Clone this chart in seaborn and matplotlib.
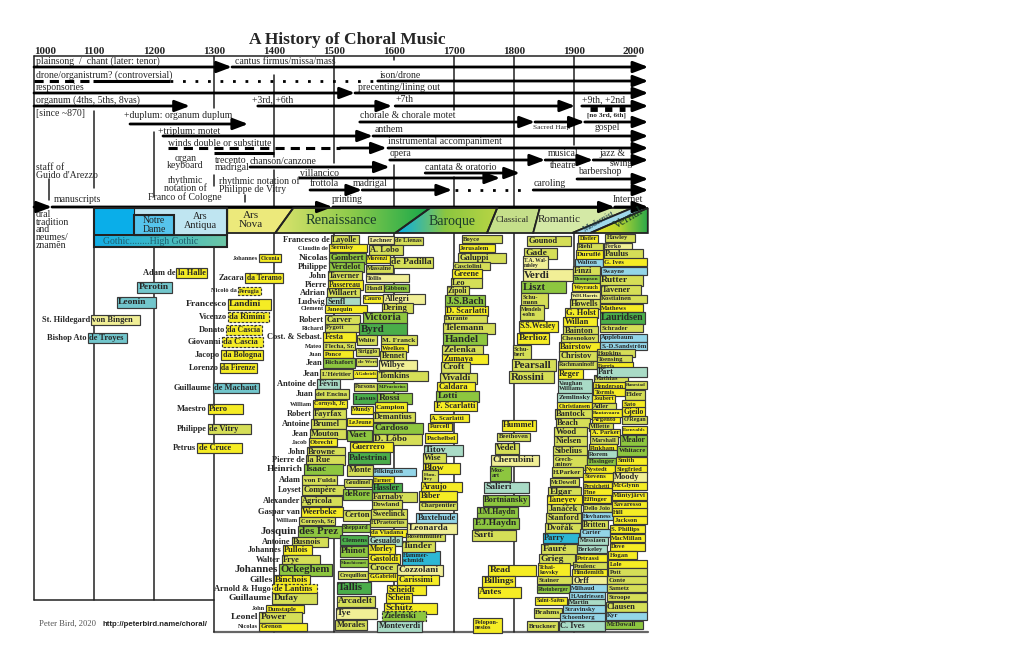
import numpy as np
import matplotlib
matplotlib.use('Agg')
import matplotlib.pyplot as plt
from matplotlib.patches import Polygon, Rectangle
from matplotlib.colors import LinearSegmentedColormap
import seaborn as sns

sns.set_theme(style='white')
plt.rcParams['font.family'] = ['Liberation Serif', 'DejaVu Serif']

# ---------------- data ----------------
axis_years = [1000, 1100, 1200, 1300, 1400, 1500, 1600, 1700, 1800, 1900, 2000]

# strands of practice in the upper panel: (text, year, row)
strand_text = [
    ("plainsong  /  chant (later: tenor)", 1003, 61),
    ("cantus firmus/missa/mass", 1335, 61),
    ("drone/organistrum? (controversial)", 1003, 75),
    ("ison/drone", 1577, 75),
    ("responsories", 1003, 87),
    ("precenting/lining out", 1540, 87),
    ("organum (4ths, 5ths, 8vas)", 1003, 100),
    ("+3rd, +6th", 1363, 100),
    ("+7th", 1602, 100),
    ("+9th, +2nd", 1913, 100),
    ("[since ~870]", 1003, 114),
    ("+duplum: organum duplum", 1150, 116),
    ("chorale & chorale motet", 1543, 116),
    ("+triplum: motet", 1207, 131),
    ("anthem", 1568, 130),
    ("winds double or substitute", 1223, 143),
    ("instrumental accompaniment", 1590, 142),
    ("opera", 1593, 153),
    ("musical", 1857, 153),
    ("theatre", 1860, 166),
    ("jazz &", 1943, 153),
    ("swing", 1960, 164),
    ("chanson/canzone", 1360, 161),
    ("staff of", 1003, 167),
    ("Guido d'Arezzo", 1003, 175),
    ("villancico", 1443, 173),
    ("cantata & oratorio", 1652, 167),
    ("barbershop", 1907, 172),
    ("frottola", 1460, 184),
    ("madrigal", 1532, 184),
    ("caroling", 1832, 184),
    ("manuscripts", 1033, 199),
    ("printing", 1497, 199),
    ("Internet", 1965, 199),
]
strand_notes = [  # centred multi-line notes
    ("organ\nkeyboard", 1252, 162),
    ("rhythmic\nnotation of\nFranco of Cologne", 1252, 189),
]
strand_notes_left = [
    ("trecento\nmadrigal", 1302, 164),
    ("rhythmic notation of\nPhilippe de Vitry", 1308, 185),
]

# arrows: (from year, to year, row)
strand_arrows = [
    (1000, 1330, 67), (1330, 2024, 67),
    (1573, 2024, 81),
    (1000, 1535, 93), (1535, 2024, 93),
    (1000, 1260, 106), (1373, 1597, 106), (1602, 1902, 106), (1913, 2024, 106),
    (1160, 1357, 124),
    (1543, 1835, 122), (1835, 1918, 122), (1918, 2024, 122),
    (1215, 1565, 136), (1565, 2024, 136),
    (1510, 1588, 148), (1590, 2024, 148),
    (1593, 1852, 160), (1852, 1932, 160), (1932, 2024, 160),
    (1360, 1593, 167),
    (1443, 1777, 178),
    (1652, 1810, 173),
    (1905, 2024, 179),
    (1460, 1547, 190), (1547, 1697, 190),
    (1832, 2024, 190),
    (1000, 1030, 207), (1030, 1498, 207), (1498, 1968, 207), (1968, 2024, 207),
]
# plain segments: (from, to, row, kind)
strand_segments = [
    (1000, 1095, 81, 'dash'), (1098, 1227, 81, 'solid'), (1227, 1573, 81, 'dot'),
    (1223, 1510, 148, 'dash'),
    (1300, 1400, 153, 'solid'),
    (1702, 1822, 190, 'dot'),
    (1927, 1985, 109, 'square'),
]
# vertical markers (year, top row, bottom row)
markers = [
    (1300, 56, 108), (1300, 175, 186), (1400, 75, 157), (1400, 170, 207),
    (1500, 56, 163), (1600, 56, 60), (1600, 165, 207), (1700, 56, 110),
    (1700, 177, 207), (1800, 56, 207), (1900, 56, 145), (1100, 111, 188),
    (1200, 132, 197), (1025, 179, 200), (1352, 195, 202),
    (1100, 247, 600), (1200, 247, 600), (1300, 208, 632), (1400, 233, 632),
    (1500, 233, 632), (1600, 233, 632), (1700, 233, 632), (1800, 233, 632),
    (1900, 233, 632),
]

# composers: (given, surname, born, died, row, group, rank)
medieval = [
    ("Adam de", "la Halle", 1237, 1288, 273, 'Y', 2),
    ("", "Perotin", 1172, 1230, 287, 'T', 3),
    ("", "Leonin", 1138, 1203, 302, 'T', 3),
    ("St. Hildegard", "von Bingen", 1095, 1177, 320, 'y', 2),
    ("Bishop Ato", "de Troyes", 1090, 1155, 338, 'T', 2),
    ("Guillaume", "de Machaut", 1298, 1375, 388, 'T', 2),
    ("Maestro", "Piero", 1290, 1348, 409, 'Y', 2),
    ("Johannes", "Ciconia", 1375, 1412, 258, 'Y', 1),
    ("Zacara", "da Teramo", 1352, 1415, 278, 'Y', 2),
    ("Nicolò da", "Perugia", 1340, 1378, 291, 'Y', 1),
    ("Francesco", "Landini", 1323, 1395, 304, 'Y', 3),
    ("Vicenzo", "da Rimini", 1323, 1392, 317, 'Y', 2),
    ("Donato", "da Cascia", 1320, 1380, 330, 'Y', 2),
    ("Giovanni", "da Cascia", 1313, 1382, 342, 'Y', 2),
    ("Jacopo", "da Bologna", 1312, 1382, 355, 'Y', 2),
    ("Lorenzo", "da Firenze", 1310, 1372, 368, 'Y', 2),
    ("Philippe", "de Vitry", 1290, 1362, 429, 'G', 2),
    ("Petrus", "de Cruce", 1272, 1347, 448, 'Y', 2),
]
renaissance_early = [
    ("Francesco de", "Layolle", 1495, 1542, 240, 'G', 2),
    ("Claudin de", "Sermisy", 1492, 1555, 248, 'Y', 1),
    ("Nicolas", "Gombert", 1492, 1553, 258, 'g', 3),
    ("Philippe", "Verdelot", 1492, 1550, 267, 'g', 2),
    ("John", "Taverner", 1490, 1547, 276, 'G', 2),
    ("Pierre", "Passereau", 1490, 1548, 285, 'Y', 2),
    ("Adrian", "Willaert", 1488, 1543, 293, 'G', 2),
    ("Ludwig", "Senfl", 1487, 1543, 302, 't', 2),
    ("Clement", "Janequin", 1485, 1555, 309, 'Y', 1),
    ("Robert", "Carver", 1485, 1543, 320, 'G', 2),
    ("Richard", "Pygott", 1485, 1543, 328, 'G', 1),
    ("Cost. & Sebast.", "Festa", 1482, 1537, 337, 'Y', 2),
    ("Mateo", "Flecha, Sr.", 1482, 1535, 346, 'G', 1),
    ("Juan", "Ponce", 1482, 1532, 354, 'Y', 1),
    ("Jean", "Richafort", 1482, 1535, 363, 'g', 2),
    ("Jean", "L'Héritier", 1477, 1532, 374, 'G', 2),
    ("Antoine de", "Févin", 1472, 1510, 384, 't', 2),
    ("Juan", "del Encina", 1468, 1525, 394, 'G', 2),
    ("William", "Cornysh, Jr.", 1465, 1522, 404, 'Y', 1),
    ("Robert", "Fayrfax", 1465, 1520, 414, 'G', 2),
    ("Antoine", "Brumel", 1462, 1520, 424, 'G', 2),
    ("Jean", "Mouton", 1460, 1520, 434, 'G', 2),
    ("Jacob", "Obrecht", 1458, 1505, 442, 'Y', 1),
    ("John", "Browne", 1455, 1518, 452, 'G', 2),
    ("Pierre de", "la Rue", 1453, 1518, 460, 'G', 2),
    ("Heinrich", "Isaac", 1450, 1515, 469, 'g', 3),
    ("Adam", "von Fulda", 1447, 1505, 480, 'G', 2),
    ("Loyset", "Compère", 1447, 1518, 490, 'G', 2),
    ("Alexander", "Agricola", 1445, 1513, 501, 'G', 2),
    ("Gaspar van", "Weerbeke", 1445, 1515, 512, 'Y', 2),
    ("William", "Cornysh, Sr.", 1442, 1502, 521, 'G', 1),
    ("Josquin", "des Prez", 1440, 1513, 532, 'g', 4),
    ("Antoine", "Busnois", 1430, 1490, 542, 'G', 2),
    ("Johannes", "Pullois", 1415, 1463, 550, 'Y', 2),
    ("Walter", "Frye", 1413, 1477, 560, 'G', 2),
    ("Johannes", "Ockeghem", 1408, 1497, 570, 'g', 4),
    ("Gilles", "Binchois", 1400, 1460, 580, 'Y', 3),
    ("Arnold & Hugo", "de Lantins", 1397, 1472, 589, 'Y', 2),
    ("Guillaume", "Dufay", 1397, 1472, 598, 'G', 3),
    ("John", "Dunstaple", 1387, 1450, 609, 'Y', 1),
    ("Leonel", "Power", 1375, 1447, 617, 'G', 3),
    ("Nicolas", "Grenon", 1375, 1455, 627, 'Y', 1),
]
renaissance_late = [
    ("Lechner", 1557, 1600, 240, 'y', 1), ("de Lienas", 1600, 1648, 241, 'G', 1),
    ("A. Lobo", 1558, 1615, 250, 'G', 2), ("Morenzi", 1553, 1593, 259, 'Y', 1),
    ("de Padilla", 1593, 1665, 262, 'G', 3), ("Massaine", 1553, 1598, 269, 'G', 1),
    ("Tollis", 1553, 1625, 278, 'y', 1), ("Handl", 1552, 1583, 288, 'G', 1),
    ("Gibbons", 1583, 1625, 288, 'g', 1), ("Cauro", 1548, 1582, 299, 'Y', 1),
    ("Allegri", 1582, 1652, 299, 'y', 2), ("Dering", 1580, 1632, 308, 'G', 2),
    ("Victoria", 1548, 1622, 318, 'g', 4), ("Byrd", 1542, 1622, 329, 'D', 4),
    ("White", 1538, 1572, 340, 'G', 2), ("M. Franck", 1578, 1638, 340, 'G', 2),
    ("Striggio", 1537, 1575, 352, 'G', 1), ("Weelkes", 1578, 1623, 348, 'Y', 1),
    ("Bennet", 1577, 1620, 356, 'G', 2), ("de Wert", 1537, 1572, 362, 'G', 1),
    ("Wilbye", 1575, 1638, 365, 'y', 2), ("A.Gabrieli", 1532, 1572, 374, 'Y', 1),
    ("Tomkins", 1572, 1657, 376, 'G', 2), ("Parsons", 1533, 1572, 387, 'G', 1),
    ("M.Praetorius", 1572, 1622, 387, 'g', 1), ("Lassus", 1532, 1572, 398, 'D', 3),
    ("Rossi", 1572, 1630, 398, 'g', 3), ("Mundy", 1528, 1565, 410, 'Y', 1),
    ("Campion", 1568, 1622, 407, 'Y', 2), ("Demantius", 1565, 1635, 417, 'G', 2),
    ("LeJeune", 1522, 1565, 422, 'Y', 1), ("Cardoso", 1565, 1648, 428, 'g', 3),
    ("Vaet", 1522, 1563, 435, 'g', 3), ("D. Lôbo", 1565, 1647, 439, 'G', 3),
    ("Guerrero", 1527, 1598, 447, 'Y', 2), ("Palestrina", 1523, 1593, 458, 'D', 4),
    ("Monte", 1522, 1565, 470, 'G', 3), ("Pilkington", 1565, 1637, 472, 'B', 1),
    ("Goudimel", 1517, 1563, 483, 'G', 1), ("Farmer", 1565, 1600, 480, 'Y', 1),
    ("Hassler", 1563, 1613, 488, 'D', 2), ("deRore", 1515, 1563, 494, 'g', 3),
    ("Farnaby", 1563, 1638, 497, 'G', 2), ("Dowland", 1563, 1613, 505, 'G', 2),
    ("Certon", 1515, 1562, 515, 'G', 3), ("Sweelinck", 1562, 1622, 514, 'G', 2),
    ("Sheppard", 1513, 1560, 528, 'g', 1), ("H.Praetorius", 1560, 1622, 523, 'G', 1),
    ("da Viadana", 1560, 1622, 533, 'Y', 1), ("Clemens", 1510, 1557, 540, 'D', 2),
    ("Gesualdo", 1557, 1613, 541, 't', 2), ("Phinot", 1510, 1557, 551, 'g', 3),
    ("Morley", 1557, 1602, 549, 'Y', 2), ("Manchicourt", 1510, 1557, 563, 'g', 1),
    ("Gastoldi", 1557, 1610, 559, 'Y', 2), ("Crequillon", 1507, 1557, 575, 'G', 1),
    ("Croce", 1557, 1607, 568, 'G', 3), ("G.Gabrieli", 1557, 1607, 577, 'Y', 1),
    ("Tallis", 1505, 1562, 588, 'D', 4), ("Arcadelt", 1505, 1568, 601, 'G', 3),
    ("Tye", 1503, 1572, 613, 'y', 3), ("Morales", 1502, 1555, 625, 'G', 2),
    ("Scheidt", 1588, 1653, 590, 'Y', 2), ("Schein", 1587, 1630, 598, 'Y', 2),
    ("Schütz", 1583, 1672, 608, 'Y', 3), ("Zieleński", 1580, 1653, 616, 'g', 2),
    ("Monteverdi", 1572, 1647, 626, 't', 3), ("Hammer-\nschmidt", 1613, 1677, 558, 'C', 0),
    ("Tunder", 1613, 1668, 546, 'G', 3), ("Rosenmüller", 1620, 1685, 537, 'G', 1),
    ("Leonarda", 1622, 1705, 528, 'y', 3), ("Cozzolani", 1605, 1682, 570, 'y', 3),
    ("Carissimi", 1605, 1675, 580, 'Y', 2),
]
baroque = [
    ("Boyce", 1713, 1780, 239, 'G', 1), ("Jerusalem", 1708, 1768, 248, 'Y', 1),
    ("Galuppi", 1707, 1787, 258, 'G', 2), ("Casciolini", 1698, 1760, 266, 'G', 1),
    ("Greene", 1697, 1747, 274, 'Y', 2), ("Leo", 1695, 1747, 283, 'G', 2),
    ("Zipoli", 1688, 1725, 291, 'G', 2), ("J.S.Bach", 1685, 1752, 301, 'g', 4),
    ("D. Scarlatti", 1685, 1757, 311, 'Y', 2), ("Durante", 1683, 1755, 319, 'G', 1),
    ("Telemann", 1682, 1768, 328, 'G', 3), ("Handel", 1682, 1755, 339, 'g', 4),
    ("Zelenka", 1680, 1748, 350, 'G', 3), ("Zumaya", 1680, 1757, 359, 'Y', 2),
    ("Croft", 1678, 1727, 367, 'G', 3), ("Vivaldi", 1677, 1738, 378, 'G', 3),
    ("Caldara", 1672, 1735, 387, 'Y', 2), ("Lotti", 1670, 1742, 396, 'g', 3),
    ("F. Scarlatti", 1667, 1738, 406, 'Y', 2), ("A. Scarlatti", 1660, 1725, 418, 'Y', 1),
    ("Purcell", 1657, 1697, 427, 'Y', 1), ("Pachelbel", 1652, 1705, 438, 'Y', 2),
    ("Titov", 1650, 1715, 450, 't', 3), ("Wise", 1648, 1687, 458, 'G', 2),
    ("Blow", 1648, 1710, 468, 'Y', 3), ("Hum-\nfrey", 1647, 1673, 477, 'G', 0),
    ("Araujo", 1645, 1713, 487, 'Y', 2), ("Biber", 1642, 1705, 496, 'Y', 2),
    ("Charpentier", 1642, 1705, 506, 'G', 1), ("Buxtehude", 1637, 1705, 518, 'B', 2),
    ("Pelopon-\nnesios", 1732, 1780, 625, 'Y', 0),
]
classical = [
    ("Hummel", 1780, 1837, 425, 'Y', 3), ("Beethoven", 1772, 1827, 437, 'G', 1),
    ("Vedel", 1768, 1808, 448, 'G', 3), ("Cherubini", 1762, 1842, 460, 'y', 3),
    ("Moz-\nart", 1760, 1795, 473, 'g', 0), ("Salieri", 1750, 1825, 487, 't', 3),
    ("Bortniansky", 1748, 1825, 500, 'g', 3), ("J.M.Haydn", 1738, 1807, 512, 'g', 3),
    ("F.J.Haydn", 1732, 1808, 523, 'g', 3), ("Sarti", 1730, 1803, 535, 'G', 3),
    ("Read", 1757, 1837, 570, 'Y', 3), ("Billings", 1747, 1802, 581, 'Y', 3),
    ("Antes", 1740, 1812, 592, 'Y', 3),
]
romantic = [
    ("Gounod", 1822, 1895, 241, 'G', 2), ("Gade", 1817, 1872, 253, 'G', 3),
    ("T.A. Wal-\nmisley", 1815, 1857, 263, 'y', 0), ("Verdi", 1815, 1898, 275, 'y', 4),
    ("Liszt", 1812, 1887, 287, 'g', 4), ("Schu-\nmann", 1812, 1857, 300, 'G', 0),
    ("Mendels\n-sohn", 1810, 1850, 312, 'G', 0), ("S.S.Wesley", 1808, 1873, 326, 'Y', 3),
    ("Berlioz", 1805, 1858, 338, 'Y', 3), ("Schu-\nbert", 1798, 1828, 352, 'G', 0),
    ("Pearsall", 1797, 1870, 365, 'G', 4), ("Rossini", 1792, 1867, 377, 'G', 4),
]
modern_a = [
    ("Distler", 1907, 1940, 239, 'Y', 1), ("Riehl", 1905, 1948, 247, 'G', 1),
    ("Duruflé", 1903, 1948, 255, 'Y', 2), ("Walton", 1902, 1948, 263, 'B', 1),
    ("Finzi", 1898, 1943, 271, 'G', 2), ("Thompson", 1898, 1943, 279, 'g', 1),
    ("Weyrauch", 1897, 1943, 287, 'Y', 1), ("W.H.Harris", 1895, 1943, 296, 'y', 1),
    ("Howells", 1893, 1943, 304, 'G', 2), ("G. Holst", 1885, 1940, 313, 'Y', 2),
    ("Willan", 1882, 1938, 322, 'Y', 2), ("Bainton", 1882, 1940, 331, 'G', 2),
    ("Chesnokov", 1878, 1940, 339, 'G', 2), ("Bairstow", 1875, 1943, 347, 'Y', 2),
    ("Christov", 1875, 1938, 356, 'G', 2), ("Rachmaninoff", 1873, 1938, 365, 'G', 1),
    ("Reger", 1873, 1915, 374, 'Y', 2), ("Vaughan\nWilliams", 1873, 1930, 386, 't', 0),
    ("Zemlinsky", 1872, 1930, 398, 't', 2), ("Christiansen", 1872, 1930, 406, 'Y', 1),
    ("Bantock", 1868, 1930, 414, 'G', 2), ("Beach", 1870, 1927, 423, 'G', 2),
    ("Wood", 1867, 1922, 432, 'G', 2), ("Nielsen", 1867, 1922, 441, 'G', 2),
    ("Sibelius", 1865, 1922, 451, 'G', 2), ("Grech-\naninov", 1865, 1922, 462, 'G', 0),
    ("H.Parker", 1863, 1915, 472, 'G', 2), ("McDowell", 1860, 1908, 482, 'G', 1),
    ("Elgar", 1857, 1912, 492, 'G', 3), ("Taneyev", 1855, 1913, 500, 'Y', 2),
    ("Janáček", 1855, 1912, 509, 'G', 2), ("Stanford", 1853, 1912, 518, 'G', 2),
    ("Dvořák", 1852, 1912, 528, 'G', 2), ("Parry", 1848, 1908, 538, 'C', 2),
    ("Fauré", 1845, 1905, 549, 'G', 3), ("Grieg", 1842, 1902, 559, 'G', 3),
    ("Tchai-\nkovsky", 1840, 1893, 570, 'Y', 0), ("Stainer", 1838, 1897, 580, 'G', 1),
    ("Rheinberger", 1838, 1893, 589, 'g', 1), ("Saint-Saëns", 1835, 1888, 601, 'Y', 1),
    ("Brahms", 1833, 1880, 613, 'G', 2), ("Bruckner", 1822, 1873, 626, 'G', 2),
]
modern_b = [
    ("Argento", 1930, 1977, 419, 'Y', 1), ("Villette", 1925, 1965, 427, 'G', 1),
    ("A. Parker", 1927, 1977, 433, 'Y', 1), ("Marshall", 1927, 1973, 440, 'G', 1),
    ("Pinkham", 1925, 1972, 448, 'Y', 1), ("Rorem", 1923, 1972, 454, 't', 1),
    ("Fissinger", 1922, 1970, 462, 'g', 1), ("Nystedt", 1918, 1968, 469, 'Y', 1),
    ("Stevens", 1915, 1965, 477, 'Y', 1), ("Persichetti", 1915, 1963, 486, 'Y', 1),
    ("Fine", 1915, 1963, 492, 'Y', 1), ("Effinger", 1915, 1962, 499, 'Y', 1),
    ("Dello Joio", 1915, 1963, 508, 'G', 1), ("Hovhaness", 1913, 1965, 516, 'B', 1),
    ("Britten", 1913, 1957, 525, 'G', 2), ("Carter", 1910, 1960, 533, 'B', 1),
    ("Messiaen", 1907, 1957, 541, 't', 1), ("Berkeley", 1905, 1955, 549, 't', 1),
    ("Petrassi", 1903, 1955, 558, 'Y', 1), ("Poulenc", 1898, 1955, 566, 'G', 1),
    ("Hindemith", 1897, 1955, 573, 'Y', 1), ("Orff", 1897, 1955, 581, 'y', 2),
    ("Milhaud", 1893, 1955, 588, 'B', 1), ("H.Andriessen", 1892, 1952, 596, 'B', 1),
    ("Martin", 1890, 1952, 603, 't', 1), ("Stravinsky", 1882, 1952, 609, 'B', 1),
    ("Schoenberg", 1877, 1952, 617, 'B', 1), ("C. Ives", 1875, 1952, 626, 't', 2),
    ("Mathias", 1933, 1990, 379, 'G', 1), ("Henderson", 1932, 1985, 386, 'Y', 1),
    ("Tormis", 1932, 1985, 392, 'Y', 1), ("Joubert", 1930, 1968, 399, 'Y', 1),
    ("Adler", 1930, 1970, 407, 'G', 1), ("Rautavaara", 1930, 1980, 413, 'Y', 1),
]
modern_c = [
    ("Hawley", 1952, 2002, 238, 'G', 1), ("Ferko", 1950, 1997, 247, 'y', 1),
    ("Paulus", 1950, 2015, 254, 'G', 2), ("G. Ives", 1948, 2022, 262, 'Y', 1),
    ("Swayne", 1945, 2022, 271, 'B', 1), ("Rutter", 1943, 2015, 280, 'G', 3),
    ("Tavener", 1945, 2012, 290, 'G', 2), ("Kostiainen", 1943, 2022, 299, 'G', 1),
    ("Mathews", 1943, 2015, 308, 'Y', 1), ("Lauridsen", 1943, 2018, 318, 'D', 4),
    ("Schrader", 1943, 2015, 328, 'G', 1), ("Applebaum", 1943, 2022, 338, 'B', 1),
    ("S.-D.Sandström", 1943, 2022, 346, 'B', 1), ("Hopkins", 1938, 2002, 353, 'G', 1),
    ("Toensing", 1938, 1997, 359, 'G', 1), ("Ferris", 1938, 1998, 366, 'Y', 1),
    ("Pärt", 1938, 2022, 372, 't', 2), ("Runestad", 1985, 2022, 385, 'G', 1),
    ("Elder", 1985, 2018, 395, 'G', 2), ("Sato", 1980, 2018, 404, 'Y', 1),
    ("Gjeilo", 1980, 2018, 412, 'Y', 2), ("O'Regan", 1980, 2022, 420, 'G', 1),
    ("Esenvalds", 1980, 2022, 430, 'Y', 1), ("Mealor", 1977, 2022, 440, 'g', 3),
    ("Whitacre", 1972, 2022, 451, 'g', 2), ("Smith", 1970, 2022, 461, 'Y', 1),
    ("Siegfried", 1968, 2022, 469, 'Y', 1), ("Moody", 1965, 2022, 477, 'y', 2),
    ("McGlynn", 1963, 2022, 486, 'Y', 1), ("Mäntyjärvi", 1963, 2022, 496, 'Y', 1),
    ("Savaresso", 1963, 2022, 505, 'Y', 1), ("Hill", 1963, 2022, 512, 'Y', 1),
    ("Jackson", 1965, 2022, 520, 'Y', 1), ("S. Phillips", 1960, 2018, 529, 'Y', 1),
    ("MacMillan", 1960, 2018, 538, 'Y', 1), ("Dove", 1960, 2018, 547, 'Y', 1),
    ("Hogan", 1957, 2005, 555, 'Y', 1), ("Lole", 1957, 2022, 564, 'Y', 1),
    ("Pott", 1957, 2022, 572, 'G', 1), ("Conte", 1955, 2022, 580, 'G', 1),
    ("Sametz", 1955, 2022, 588, 'G', 1), ("Stroope", 1955, 2022, 597, 'G', 1),
    ("Clausen", 1953, 2022, 607, 'G', 2), ("Kyr", 1953, 2022, 616, 'B', 1),
    ("McDowall", 1952, 2015, 625, 'g', 1),
]
uncertain = {"Perugia", "da Rimini", "da Cascia", "de Lantins", "Zieleński"}

# ---------------- styling ----------------
PAL = {'Y': '#f5ec24', 'y': '#f1ef96', 'G': '#d5de57', 'g': '#8dc63f',
       'D': '#4aad4a', 'T': '#72c6cc', 't': '#a9dbc6', 'B': '#93d5e8', 'C': '#2db7d4'}
FONT = {0: 4.6, 1: 4.8, 2: 6.0, 3: 6.8, 4: 7.8}
HEIGHT = {0: 15, 1: 8, 2: 9.5, 3: 11, 4: 12.5}
TXT = 7.0

fig = plt.figure(figsize=(10.2, 6.6), dpi=100)
ax = fig.add_axes([0, 0, 1, 1])
x0 = 1000 - 34 / 0.6
ax.set_xlim(x0, x0 + 1020 / 0.6)
ax.set_ylim(660, 0)
ax.axis('off')
renderer = fig.canvas.get_renderer()

# title and year axis
ax.text(1523, 44.5, "A History of Choral Music", ha='center', va='baseline',
        fontsize=12.5, fontweight='bold')
for yr in axis_years:
    ax.text(yr + (18 if yr == 1000 else 0), 54, str(yr), ha='center', va='baseline',
            fontsize=8, fontweight='bold')

# frame
ax.plot([1000, 2003], [56, 56], color='#222', lw=1.1, zorder=1)
ax.plot([1000, 1000], [56, 600], color='#222', lw=1.1, zorder=1)
ax.plot([1000, 1300], [600, 600], color='#222', lw=1.1, zorder=1)
ax.plot([1300, 2024], [632, 632], color='#666', lw=1.6, zorder=1)
for yr, a, b in markers:
    ax.plot([yr, yr], [a, b], color='#222', lw=1.1, zorder=1)

# strands
for t, yr, y in strand_text:
    ax.text(yr, y, t, ha='left', va='center', fontsize=TXT, zorder=3)
for t, yr, y in strand_notes:
    ax.text(yr, y, t, ha='center', va='center', fontsize=TXT, linespacing=0.85, zorder=3)
for t, yr, y in strand_notes_left:
    ax.text(yr, y, t, ha='left', va='center', fontsize=TXT, linespacing=0.85, zorder=3)
ax.text(1832, 128, "Sacred Harp", ha='left', va='center', fontsize=5.4, zorder=3)
ax.text(1935, 128, "gospel", ha='left', va='center', fontsize=TXT, zorder=3)
ax.text(1922, 115, "[no 3rd, 6th]", ha='left', va='center', fontsize=5.2,
        fontweight='bold', zorder=3)

for a, b, y in strand_arrows:
    ax.annotate('', xy=(b, y), xytext=(a, y), zorder=3,
                arrowprops=dict(arrowstyle='-|>,head_length=0.9,head_width=0.34',
                                lw=2, color='black', mutation_scale=10,
                                shrinkA=0, shrinkB=0))
styles = {'solid': dict(ls='-', lw=2.2), 'dash': dict(ls=(0, (3, 2)), lw=2.2),
          'dot': dict(ls=(0, (1, 3.5)), lw=2), 'square': dict(ls=(0, (1.5, 1.5)), lw=3.5)}
for a, b, y, k in strand_segments:
    ax.plot([a, b], [y, y], color='black', solid_capstyle='butt',
            dash_capstyle='butt', zorder=3, **styles[k])


# periods band
def grad_poly(verts, colors, edge=True):
    poly = Polygon(verts, closed=True, fc='none', ec='#222' if edge else 'none',
                   lw=1.3, zorder=3)
    ax.add_patch(poly)
    xs = [v[0] for v in verts]
    ys = [v[1] for v in verts]
    cmap = LinearSegmentedColormap.from_list('p', colors)
    im = ax.imshow(np.linspace(0, 1, 256).reshape(1, -1), cmap=cmap, aspect='auto',
                   extent=(min(xs), max(xs), max(ys), min(ys)), zorder=2)
    im.set_clip_path(poly)


def flat_poly(verts, color, lw=1.3):
    ax.add_patch(Polygon(verts, closed=True, fc=color, ec='#222', lw=lw, zorder=2.5))


flat_poly([(1100, 208), (1322, 208), (1322, 235), (1100, 235)], '#0aaee9')
flat_poly([(1167, 208), (1322, 208), (1322, 235), (1167, 235)], '#bfe5f1', lw=0.8)
flat_poly([(1167, 215), (1233, 215), (1233, 235), (1167, 235)], '#56c4ec', lw=1.5)
grad_poly([(1100, 235), (1322, 235), (1322, 247), (1100, 247)], ['#12ade6', '#6ec6a4'])
ax.add_patch(Rectangle((1100, 208), 222, 39, fc='none', ec='#222', lw=1.5, zorder=3))
flat_poly([(1322, 208), (1432, 208), (1402, 233), (1322, 233)], '#ece97b')
grad_poly([(1432, 208), (1660, 208), (1602, 233), (1402, 233)], ['#dde46e', '#8cca4a', '#16a84b'])
grad_poly([(1660, 208), (1772, 208), (1755, 233), (1602, 233)], ['#00aeef', '#8cc63f', '#b8d545'])
flat_poly([(1772, 208), (1843, 208), (1832, 233), (1755, 233)], '#c5df8a')
flat_poly([(1843, 208), (1997, 208), (1897, 233), (1832, 233)], '#d4e9a6')
flat_poly([(1997, 208), (2023, 208), (1927, 233), (1897, 233)], '#9fd9ea')
grad_poly([(2023, 208), (2023, 233), (1927, 233)], ['#f4e61a', '#b9d532', '#2aa84a'])

ax.text(1277, 221, "Ars\nAntiqua", ha='center', va='center', fontsize=7.3,
        linespacing=0.9, color='#222', zorder=4)
ax.text(1200, 225, "Notre\nDame", ha='center', va='center', fontsize=7,
        linespacing=0.9, color='#222', zorder=4)
ax.text(1195, 241, "Gothic........High Gothic", ha='center', va='center', fontsize=7,
        color='#1d5e6e', zorder=4)
ax.text(1362, 220, "Ars\nNova", ha='center', va='center', fontsize=8,
        linespacing=0.9, color='#222', zorder=4)
ax.text(1512, 220, "Renaissance", ha='center', va='center', fontsize=10.5,
        color='#1b3b2b', zorder=4)
ax.text(1697, 221, "Baroque", ha='center', va='center', fontsize=10,
        color='#1b3b2b', zorder=4)
ax.text(1797, 220, "Classical", ha='center', va='center', fontsize=6.6, zorder=4)
ax.text(1875, 220, "Romantic", ha='center', va='center', fontsize=8, zorder=4)
ax.text(1942, 222, "Modernist", ha='center', va='center', fontsize=6, rotation=30,
        color='#1b3b4b', zorder=4)
ax.text(1990, 218, "Vernal", ha='center', va='center', fontsize=9, rotation=30,
        color='#1b3b2b', zorder=4)
ax.text(1003, 230, "oral\ntradition\nand\nneumes/\nznamĕn", ha='left', va='center',
        fontsize=TXT, linespacing=0.85)


# composer boxes
def draw_boxes(rows, given=None):
    names = [r[0] for r in rows]
    born = np.array([r[1] for r in rows])
    died = np.array([r[2] for r in rows])
    ys = [r[3] for r in rows]
    cols = [PAL[r[4]] for r in rows]
    ranks = [r[5] for r in rows]
    bars = ax.barh(ys, died - born, left=born, height=[HEIGHT[k] for k in ranks],
                   color=cols, edgecolor='#3a3a3a', linewidth=0.85, zorder=4)
    for i, (bar, nm, b, d, y, k) in enumerate(zip(bars, names, born, died, ys, ranks)):
        if nm in uncertain:
            bar.set_linestyle((0, (2.2, 1.2)))
        t = ax.text(b + 2.2, y, nm, fontsize=FONT[k], fontweight='bold', ha='left',
                    va='center', linespacing=0.85, zorder=5)
        # shrink names that would run past the end of their box
        room = (d - b) * 0.6 - 2.5
        w = t.get_window_extent(renderer).width
        if w > room:
            t.set_fontsize(max(3.2, FONT[k] * room / w))
        t.set_clip_path(bar)
        if given and given[i]:
            ax.text(b - 1.8, y, given[i], fontsize=FONT[k] if k > 1 else 4.6,
                    fontweight='bold', ha='right', va='center', zorder=5)


for group in (medieval, renaissance_early):
    draw_boxes([r[1:] for r in group], [r[0] for r in group])
for group in (renaissance_late, baroque, classical, romantic, modern_a, modern_b, modern_c):
    draw_boxes(group)

ax.text(1008, 624, "Peter Bird, 2020", ha='left', va='center', fontsize=6.2, color='#555')
ax.text(1115, 624, "http://peterbird.name/choral/", ha='left', va='center', fontsize=5.6,
        fontweight='bold', family=['Liberation Sans', 'DejaVu Sans'], color='#222')

ax.set_xlim(x0, x0 + 1020 / 0.6)
ax.set_ylim(660, 0)
fig.savefig('out.png', dpi=100)
